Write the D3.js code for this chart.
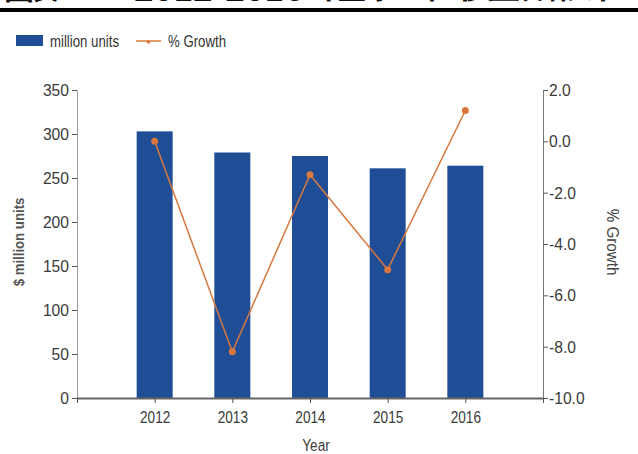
<!DOCTYPE html>
<html>
<head>
<meta charset="utf-8">
<script src="https://cdn.jsdelivr.net/npm/d3@7"></script>
<style>
  html, body { margin: 0; padding: 0; background: #fff; }
  svg { display: block; }
  .tick text { font-family: "Liberation Sans", Arial, sans-serif; fill: #3a3a3a; }
</style>
</head>
<body>
<svg id="chart" width="638" height="454"></svg>
<script>
// PC shipments by year, with year-over-year growth
const years = [2012, 2013, 2014, 2015, 2016];
const units = [303, 279, 275, 261, 264];        // million units
const growth = [0.0, -8.2, -1.3, -5.0, 1.2];     // % growth
const leftTicks = [0, 50, 100, 150, 200, 250, 300, 350];
const rightTicks = [-10, -8, -6, -4, -2, 0, 2];
const xTicks = [2011, 2012, 2013, 2014, 2015, 2016, 2017];

const svg = d3.select("#chart");
const W = 638;
const plot = { left: 77, right: 543, top: 90, bottom: 398 };

const barColor = "#1f4e97";
const lineColor = "#d8783e";
const sans = "'Liberation Sans', Arial, sans-serif";

// Squeeze a text horizontally to a condensed look
function condense(sel, k) {
  sel.each(function () {
    const w = this.getComputedTextLength();
    if (w > 0) d3.select(this).attr("textLength", w * k).attr("lengthAdjust", "spacingAndGlyphs");
  });
}

// Report heading (runs off the top edge) and its rule
const heading = svg.append("g").attr("fill", "#111")
  .attr("font-family", "'Noto Sans CJK SC', sans-serif").attr("font-size", 30).attr("font-weight", 700);
heading.append("text").attr("x", 4).attr("y", -1).attr("textLength", 104).attr("lengthAdjust", "spacing").text("图表12：");
heading.append("text").attr("x", 134).attr("y", 1).attr("textLength", 170).attr("lengthAdjust", "spacingAndGlyphs").text("2012-2016");
heading.append("text").attr("x", 312).attr("y", -2).attr("textLength", 306).attr("lengthAdjust", "spacing").text("年全球PC年出货量及增长率");
svg.append("rect").attr("x", 0).attr("y", 8).attr("width", W).attr("height", 4).attr("fill", "#000");

// Scales
const x = d3.scaleLinear().domain([2011, 2017]).range([plot.left, plot.right]);
const yL = d3.scaleLinear().domain([0, 350]).range([plot.bottom, plot.top]);
const yR = d3.scaleLinear().domain([-10, 2]).range([plot.bottom, plot.top]);
const barW = 36;

// Bars
svg.append("g").selectAll("rect").data(years).join("rect")
  .attr("x", (d) => x(d) - barW / 2)
  .attr("y", (d, i) => yL(units[i]))
  .attr("width", barW)
  .attr("height", (d, i) => yL(0) - yL(units[i]))
  .attr("fill", barColor);

// Left axis
const gL = svg.append("g").attr("transform", `translate(${plot.left},0)`)
  .call(d3.axisLeft(yL).tickValues(leftTicks).tickSize(5).tickSizeOuter(0).tickPadding(3));
gL.select(".domain").attr("stroke", "#9a9a9a");
gL.selectAll(".tick line").attr("stroke", "#555");
gL.selectAll(".tick text").attr("font-size", 17).call(condense, 0.92);

// Right axis
const gR = svg.append("g").attr("transform", `translate(${plot.right},0)`)
  .call(d3.axisRight(yR).tickValues(rightTicks).tickSize(5).tickSizeOuter(0).tickPadding(1)
    .tickFormat((d) => d.toFixed(1)));
gR.select(".domain").attr("stroke", "#777");
gR.selectAll(".tick line").attr("stroke", "#555");
gR.selectAll(".tick text").attr("font-size", 17).call(condense, 0.92);

// Bottom axis
const gX = svg.append("g").attr("transform", `translate(0,${plot.bottom})`)
  .call(d3.axisBottom(x).tickValues(xTicks).tickSize(5).tickSizeOuter(0).tickPadding(8)
    .tickFormat((d) => years.includes(d) ? String(d) : ""));
gX.select(".domain").attr("stroke", "#666").attr("stroke-width", 2);
gX.selectAll(".tick line").attr("stroke", "#555");
gX.selectAll(".tick text").attr("font-size", 17).call(condense, 0.8);

// Growth line and markers
const line = d3.line().x((d, i) => x(years[i])).y((d) => yR(d));
svg.append("path").datum(growth).attr("d", line)
  .attr("fill", "none").attr("stroke", lineColor).attr("stroke-width", 1.5);
svg.append("g").selectAll("circle").data(growth).join("circle")
  .attr("cx", (d, i) => x(years[i])).attr("cy", (d) => yR(d)).attr("r", 3.5)
  .attr("fill", lineColor);

// Axis titles
svg.append("text").attr("transform", "translate(24,242) rotate(-90)")
  .attr("text-anchor", "middle").attr("font-family", sans).attr("font-size", 15).attr("font-weight", 700)
  .attr("fill", "#555").text("$ million units").call(condense, 0.88);
svg.append("text").attr("transform", "translate(607,242) rotate(90)")
  .attr("text-anchor", "middle").attr("font-family", sans).attr("font-size", 16)
  .attr("fill", "#444").text("% Growth").call(condense, 0.95);
svg.append("text").attr("x", 316).attr("y", 451)
  .attr("text-anchor", "middle").attr("font-family", sans).attr("font-size", 17)
  .attr("fill", "#3a3a3a").text("Year").call(condense, 0.8);

// Legend
const lg = svg.append("g");
lg.append("rect").attr("x", 16).attr("y", 35).attr("width", 27).attr("height", 11).attr("fill", barColor);
lg.append("text").attr("x", 50).attr("y", 47).attr("font-family", sans).attr("font-size", 16)
  .attr("fill", "#333").attr("textLength", 69).attr("lengthAdjust", "spacingAndGlyphs").text("million units");
lg.append("line").attr("x1", 136).attr("x2", 161).attr("y1", 41).attr("y2", 41)
  .attr("stroke", lineColor).attr("stroke-width", 1.5);
lg.append("circle").attr("cx", 148.5).attr("cy", 42).attr("r", 1.8).attr("fill", lineColor);
lg.append("text").attr("x", 168).attr("y", 47).attr("font-family", sans).attr("font-size", 16)
  .attr("fill", "#333").attr("textLength", 58).attr("lengthAdjust", "spacingAndGlyphs").text("% Growth");
</script>
</body>
</html>
